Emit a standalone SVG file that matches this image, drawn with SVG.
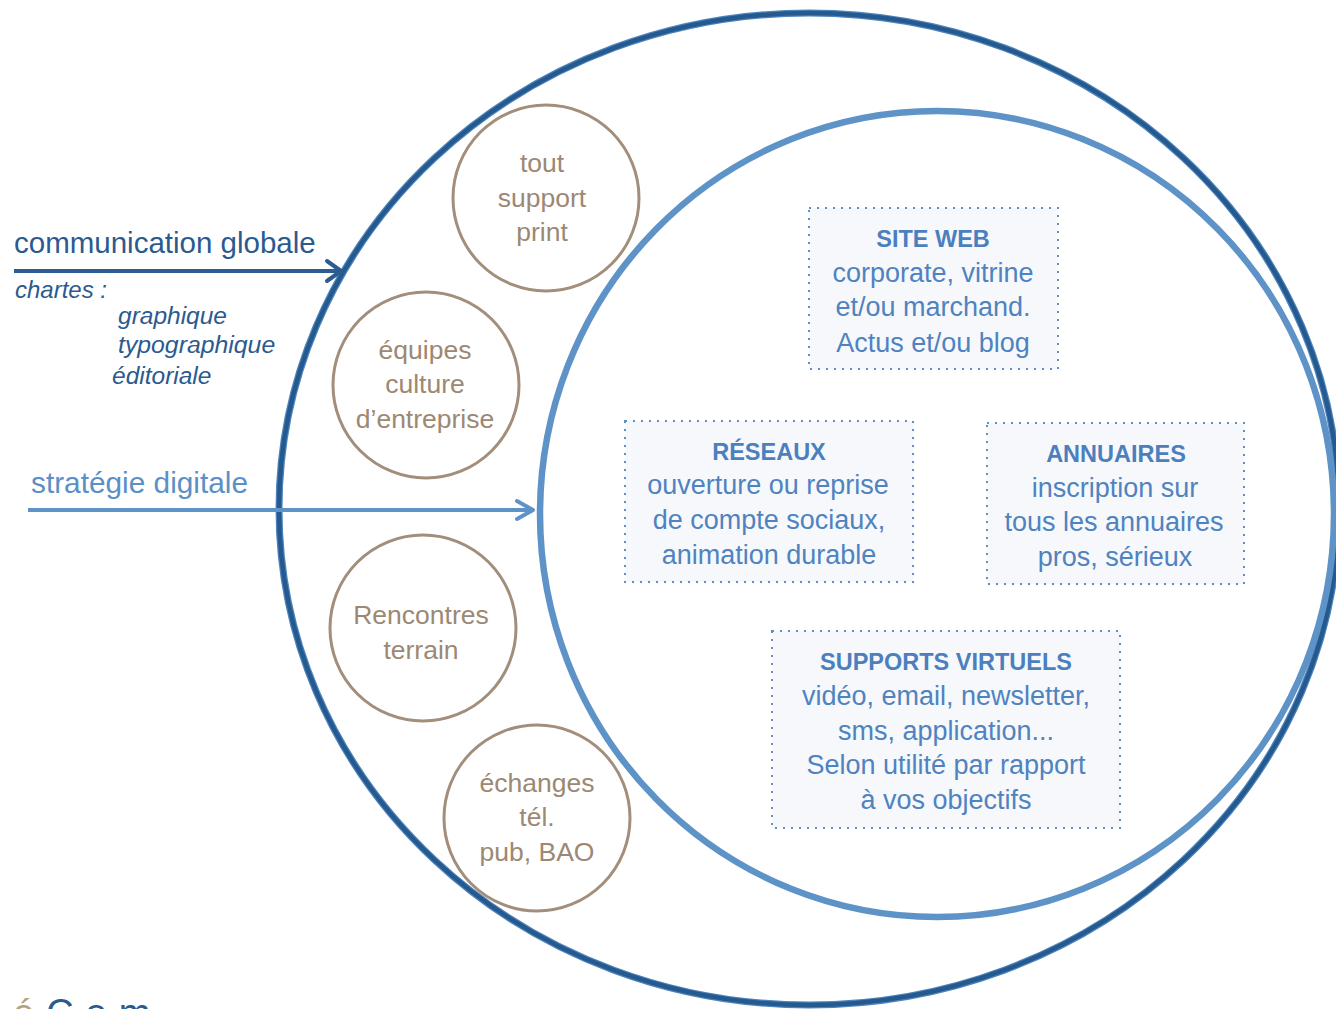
<svg xmlns="http://www.w3.org/2000/svg" width="1336" height="1009" viewBox="0 0 1336 1009">
<style>
  .dark-edge { fill: none; stroke: #4f84bb; stroke-width: 7; }
  .dark-core { fill: none; stroke: #245a8f; stroke-width: 4.5; }
  .light-ring { fill: none; stroke: #5e93c8; stroke-width: 6.5; }
  .tan { fill: #ffffff; stroke: #a28e7a; stroke-width: 3; }
  .tan-t { font-family: "Liberation Sans", Arial, sans-serif; font-size: 26.5px; fill: #9c8873; text-anchor: middle; }
  .box { fill: #f6f8fc; stroke: #5e8fc6; stroke-width: 2; stroke-dasharray: 2 6; }
  .box-h { font-family: "Liberation Sans", Arial, sans-serif; font-size: 23.5px; font-weight: bold; fill: #4b7fbe; text-anchor: middle; }
  .box-t { font-family: "Liberation Sans", Arial, sans-serif; font-size: 27px; fill: #4f83c0; text-anchor: middle; }
  .lbl { font-family: "Liberation Sans", Arial, sans-serif; }
  .it { font-family: "Liberation Sans", Arial, sans-serif; font-style: italic; fill: #2b5a8f; }
</style>
<defs>
  <marker id="chevDark" viewBox="-20 -14 24 28" markerWidth="24" markerHeight="28" refX="0" refY="0" orient="auto" markerUnits="userSpaceOnUse">
    <path d="M -14 -10 L 0 0 L -14 10" fill="none" stroke="#2b5c92" stroke-width="4" stroke-linecap="round" stroke-linejoin="round"/>
  </marker>
  <marker id="chevLight" viewBox="-20 -14 24 28" markerWidth="24" markerHeight="28" refX="0" refY="0" orient="auto" markerUnits="userSpaceOnUse">
    <path d="M -16 -9 L 0 0 L -16 9" fill="none" stroke="#5e93c8" stroke-width="4" stroke-linecap="round" stroke-linejoin="round"/>
  </marker>
</defs>

<rect x="0" y="0" width="1336" height="1009" fill="#ffffff"/>

<g id="outer-circle">
  <ellipse class="dark-edge" cx="809" cy="509" rx="530" ry="496"/>
  <ellipse class="dark-core" cx="809" cy="509" rx="530" ry="496"/>
</g>

<g id="inner-circle">
  <ellipse class="light-ring" cx="937" cy="514" rx="397" ry="403"/>
</g>

<g id="node-print">
  <circle class="tan" cx="546" cy="198" r="93"/>
  <text class="tan-t" x="542" y="172">tout</text>
  <text class="tan-t" x="542" y="207">support</text>
  <text class="tan-t" x="542" y="241">print</text>
</g>
<g id="node-equipes">
  <circle class="tan" cx="426" cy="385" r="93"/>
  <text class="tan-t" x="425" y="359">équipes</text>
  <text class="tan-t" x="425" y="393">culture</text>
  <text class="tan-t" x="425" y="428">d’entreprise</text>
</g>
<g id="node-rencontres">
  <circle class="tan" cx="423" cy="628" r="93"/>
  <text class="tan-t" x="421" y="624">Rencontres</text>
  <text class="tan-t" x="421" y="659">terrain</text>
</g>
<g id="node-echanges">
  <circle class="tan" cx="537" cy="818" r="93"/>
  <text class="tan-t" x="537" y="792">échanges</text>
  <text class="tan-t" x="537" y="826">tél.</text>
  <text class="tan-t" x="537" y="861">pub, BAO</text>
</g>

<g id="box-siteweb">
  <rect class="box" x="809" y="208" width="249" height="161"/>
  <text class="box-h" x="933" y="247">SITE WEB</text>
  <text class="box-t" x="933" y="282">corporate, vitrine</text>
  <text class="box-t" x="933" y="316">et/ou marchand.</text>
  <text class="box-t" x="933" y="352">Actus et/ou blog</text>
</g>
<g id="box-reseaux">
  <rect class="box" x="625" y="421" width="288" height="161"/>
  <text class="box-h" x="769" y="460">RÉSEAUX</text>
  <text class="box-t" x="768" y="494">ouverture ou reprise</text>
  <text class="box-t" x="769" y="529">de compte sociaux,</text>
  <text class="box-t" x="769" y="564">animation durable</text>
</g>
<g id="box-annuaires">
  <rect class="box" x="987" y="423" width="257" height="161"/>
  <text class="box-h" x="1116" y="462">ANNUAIRES</text>
  <text class="box-t" x="1115" y="497">inscription sur</text>
  <text class="box-t" x="1114" y="531">tous les annuaires</text>
  <text class="box-t" x="1115" y="566">pros, sérieux</text>
</g>
<g id="box-supports">
  <rect class="box" x="772" y="631" width="348" height="197"/>
  <text class="box-h" x="946" y="670">SUPPORTS VIRTUELS</text>
  <text class="box-t" x="946" y="705">vidéo, email, newsletter,</text>
  <text class="box-t" x="946" y="740">sms, application...</text>
  <text class="box-t" x="946" y="774">Selon utilité par rapport</text>
  <text class="box-t" x="946" y="809">à vos objectifs</text>
</g>

<g id="connectors">
  <line x1="14" y1="271" x2="341" y2="271" stroke="#2b5c92" stroke-width="4" marker-end="url(#chevDark)"/>
  <line x1="28" y1="510" x2="533" y2="510" stroke="#5e93c8" stroke-width="4" marker-end="url(#chevLight)"/>
</g>

<g id="label-communication">
  <text class="lbl" x="14" y="253" font-size="29.5" fill="#2b5a8f">communication globale</text>
  <text class="it" x="15" y="298" font-size="24">chartes :</text>
  <text class="it" x="118" y="324" font-size="24.5">graphique</text>
  <text class="it" x="118" y="353" font-size="24.8">typographique</text>
  <text class="it" x="112" y="384" font-size="24.5">éditoriale</text>
</g>
<g id="label-strategie">
  <text class="lbl" x="31" y="493" font-size="29.8" fill="#5b8fc7">stratégie digitale</text>
</g>

<g id="logo-fragment">
  <text class="lbl" x="13" y="1026" font-size="38" letter-spacing="12"><tspan fill="#b2a17f">é</tspan><tspan fill="#2b5a8f">Com</tspan></text>
</g>
</svg>
